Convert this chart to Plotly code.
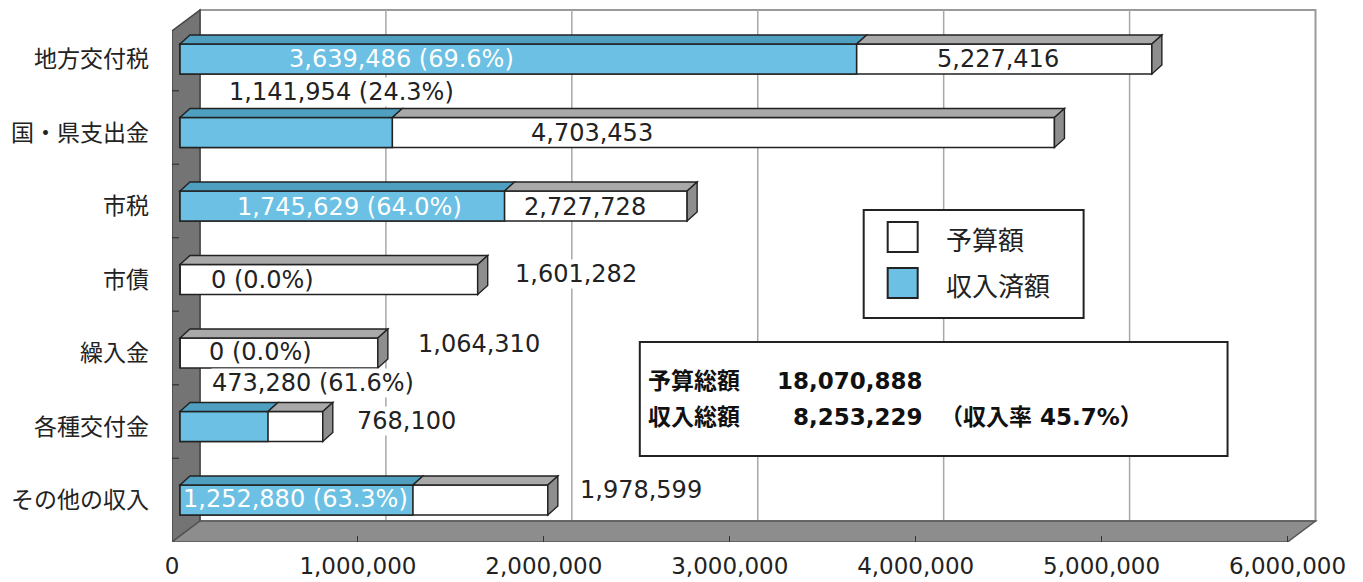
import plotly.graph_objects as go

# ---------------- data ----------------
categories = ["地方交付税", "国・県支出金", "市税", "市債", "繰入金", "各種交付金", "その他の収入"]
budget = [5227416, 4703453, 2727728, 1601282, 1064310, 768100, 1978599]
received = [3639486, 1141954, 1745629, 0, 0, 473280, 1252880]
rates = [69.6, 24.3, 64.0, 0.0, 0.0, 61.6, 63.3]
x_ticks = [0, 1000000, 2000000, 3000000, 4000000, 5000000, 6000000]
x_tick_labels = ["0", "1,000,000", "2,000,000", "3,000,000", "4,000,000", "5,000,000", "6,000,000"]
legend_names = ["予算額", "収入済額"]
total_budget = 18070888
total_received = 8253229
total_rate = 45.7

# ---------------- layout constants (page pixels) ----------------
OFF = 8                      # default page body margin
W, H = 1363 - OFF, 582 - OFF
PL, PR, PT, PB = 172, 1334.5, 8, 542   # plot area on page
ML, MR, MT, MB = PL - OFF, W - (PR - OFF), PT - OFF, H - (PB - OFF)
XMAX = 6.25e6
PW = PR - PL
PX_PER_X = PW / XMAX
ROW = 73.5            # px per category
FIRST_ROW_PX = 59     # page y of first category centre
Y_TOP = (PT - FIRST_ROW_PX) / ROW
Y_BOT = (PB - FIRST_ROW_PX) / ROW


def dx(p):
    return p / PX_PER_X


def dy(p):
    return p / ROW


def X(px):
    return (px - PL) / PX_PER_X


def Y(py):
    return (py - FIRST_ROW_PX) / ROW


WDX, WDY = dx(28), dy(21)     # wall depth
WALL_TOP = Y(10)
BS = dx(8)                    # bar shift into depth
BDX, BDY = dx(10), dy(9)      # bar depth
BW = 30 / ROW                 # bar thickness

BLUE = "#6cc0e3"
BLUE_TOP = "#4e9fc0"
GRAY_TOP = "#a9a9a9"
GRAY_SIDE = "#8e8e8e"
WALL = "#747474"
FLOOR = "#8d8d8d"
NUMFONT = "DejaVu Sans, Noto Sans CJK JP, sans-serif"
JPFONT = "Noto Sans CJK JP, sans-serif"

idx = list(range(len(categories)))
XEND = x_ticks[-1]

fig = go.Figure()
fig.add_trace(go.Bar(y=idx, x=budget, base=BS, orientation="h", width=BW,
                     marker=dict(color="white", line=dict(color="#222", width=1.6)),
                     name=legend_names[0], showlegend=False, hoverinfo="skip"))
fig.add_trace(go.Bar(y=idx, x=received, base=BS, orientation="h", width=BW,
                     marker=dict(color=BLUE, line=dict(color="#222", width=1.6)),
                     name=legend_names[1], showlegend=False, hoverinfo="skip"))

shapes = []
# back wall
shapes.append(dict(type="rect", x0=WDX, x1=XEND + WDX, y0=WALL_TOP, y1=Y_BOT - WDY,
                   fillcolor="white", line=dict(color="#9a9a9a", width=2), layer="below"))
for t in x_ticks[1:-1]:
    shapes.append(dict(type="line", x0=t + WDX, x1=t + WDX, y0=WALL_TOP, y1=Y_BOT - WDY,
                       line=dict(color="#a8a8a8", width=1.5), layer="below"))
# left wall
shapes.append(dict(type="path",
                   path=f"M 0,{WALL_TOP + WDY} L {WDX},{WALL_TOP} L {WDX},{Y_BOT - WDY} L 0,{Y_BOT} Z",
                   fillcolor=WALL, line=dict(color="#444", width=1.5), layer="below"))
# floor
shapes.append(dict(type="path",
                   path=f"M 0,{Y_BOT} L {WDX},{Y_BOT - WDY} L {XEND + WDX},{Y_BOT - WDY} L {XEND},{Y_BOT} Z",
                   fillcolor=FLOOR, line=dict(color="#555", width=1.5), layer="below"))
# left wall separators
for i in range(len(categories) - 1):
    yy = i + 0.5 + dy(-5)
    shapes.append(dict(type="line", x0=0, x1=dx(7), y0=yy, y1=yy,
                       line=dict(color="#333", width=1.2)))

# 3D faces of bars
for i, (b, r) in enumerate(zip(budget, received)):
    yt = i - BW / 2
    yb = i + BW / 2
    ln = dict(color="#222", width=1.4)
    if r > 0:
        shapes.append(dict(type="path",
                           path=f"M {BS},{yt} L {BS + BDX},{yt - BDY} L {BS + r + BDX},{yt - BDY} L {BS + r},{yt} Z",
                           fillcolor=BLUE_TOP, line=ln))
    shapes.append(dict(type="path",
                       path=f"M {BS + r},{yt} L {BS + r + BDX},{yt - BDY} L {BS + b + BDX},{yt - BDY} L {BS + b},{yt} Z",
                       fillcolor=GRAY_TOP, line=ln))
    shapes.append(dict(type="path",
                       path=f"M {BS + b},{yt} L {BS + b + BDX},{yt - BDY} L {BS + b + BDX},{yb - BDY} L {BS + b},{yb} Z",
                       fillcolor=GRAY_SIDE, line=ln))

# legend box (drawn)
shapes.append(dict(type="rect", x0=X(864), x1=X(1084), y0=Y(210), y1=Y(318),
                   fillcolor="white", line=dict(color="#222", width=2)))
shapes.append(dict(type="rect", x0=X(888), x1=X(918), y0=Y(222), y1=Y(252),
                   fillcolor="white", line=dict(color="#222", width=2)))
shapes.append(dict(type="rect", x0=X(888), x1=X(918), y0=Y(268), y1=Y(298),
                   fillcolor=BLUE, line=dict(color="#222", width=2)))
# summary box
shapes.append(dict(type="rect", x0=X(640), x1=X(1228), y0=Y(342), y1=Y(456),
                   fillcolor="white", line=dict(color="#222", width=2)))

annotations = []
# label placement (page px centres) per category: received label, budget label
recv_pos = [(402, 59), (342, 92), (350, 207), (263, 280), (261, 352), (313, 383), (296, 499)]
recv_color = ["white", "#222", "white", "#222", "#222", "#222", "white"]
recv_bg = [None, "white", None, None, None, "white", None]
budg_pos = [(998, 59), (592, 133), (585, 207), (576, 274), (479, 344), (407, 421), (641, 490)]
budg_bg = [None, None, None, "white", "white", "white", "white"]
LABEL_SIZE = 24
for i in idx:
    txt = f"{received[i]:,} ({rates[i]:.1f}%)"
    cx, cy = recv_pos[i]
    annotations.append(dict(x=X(cx), y=Y(cy), text=txt, showarrow=False,
                            font=dict(family=NUMFONT, size=LABEL_SIZE, color=recv_color[i]),
                            xanchor="center", yanchor="middle", bgcolor=recv_bg[i], borderpad=0))
    cx, cy = budg_pos[i]
    annotations.append(dict(x=X(cx), y=Y(cy), text=f"{budget[i]:,}", showarrow=False,
                            font=dict(family=NUMFONT, size=LABEL_SIZE, color="#222"),
                            xanchor="center", yanchor="middle", bgcolor=budg_bg[i], borderpad=0))

# legend texts
annotations.append(dict(x=X(944), y=Y(238), text=legend_names[0], showarrow=False, xanchor="left",
                        yanchor="middle", font=dict(family=JPFONT, size=26, color="#222")))
annotations.append(dict(x=X(944), y=Y(284), text=legend_names[1], showarrow=False, xanchor="left",
                        yanchor="middle", font=dict(family=JPFONT, size=26, color="#222")))
# summary texts
bold = dict(family=NUMFONT, size=23, color="#111", weight="bold")
annotations.append(dict(x=X(646), y=Y(381), text="予算総額", showarrow=False, xanchor="left",
                        yanchor="middle", font=bold))
annotations.append(dict(x=X(925), y=Y(381), text=f"{total_budget:,}", showarrow=False, xanchor="right",
                        yanchor="middle", font=bold))
annotations.append(dict(x=X(646), y=Y(417), text="収入総額", showarrow=False, xanchor="left",
                        yanchor="middle", font=bold))
annotations.append(dict(x=X(925), y=Y(417), text=f"{total_received:,}", showarrow=False, xanchor="right",
                        yanchor="middle", font=bold))
annotations.append(dict(x=X(938), y=Y(417), text=f"（収入率 {total_rate}%）", showarrow=False, xanchor="left",
                        yanchor="middle", font=bold))

fig.update_layout(
    width=W, height=H,
    margin=dict(l=ML, r=MR, t=MT, b=MB, pad=0),
    paper_bgcolor="white", plot_bgcolor="white",
    barmode="overlay", showlegend=False,
    shapes=shapes, annotations=annotations,
    xaxis=dict(range=[0, XMAX], tickvals=x_ticks, ticktext=x_tick_labels,
               showgrid=False, zeroline=False, showline=False, automargin=False,
               ticks="inside", ticklen=6, tickcolor="#333", tickwidth=1.2,
               ticklabelstandoff=8,
               tickfont=dict(family=NUMFONT, size=23, color="#222")),
    yaxis=dict(range=[Y_BOT, Y_TOP], tickvals=idx, ticktext=categories,
               showgrid=False, zeroline=False, showline=False, ticks="", automargin=False,
               ticklabelstandoff=22,
               tickfont=dict(family=JPFONT, size=23, color="#222")),
)

fig.write_html("out.html")
